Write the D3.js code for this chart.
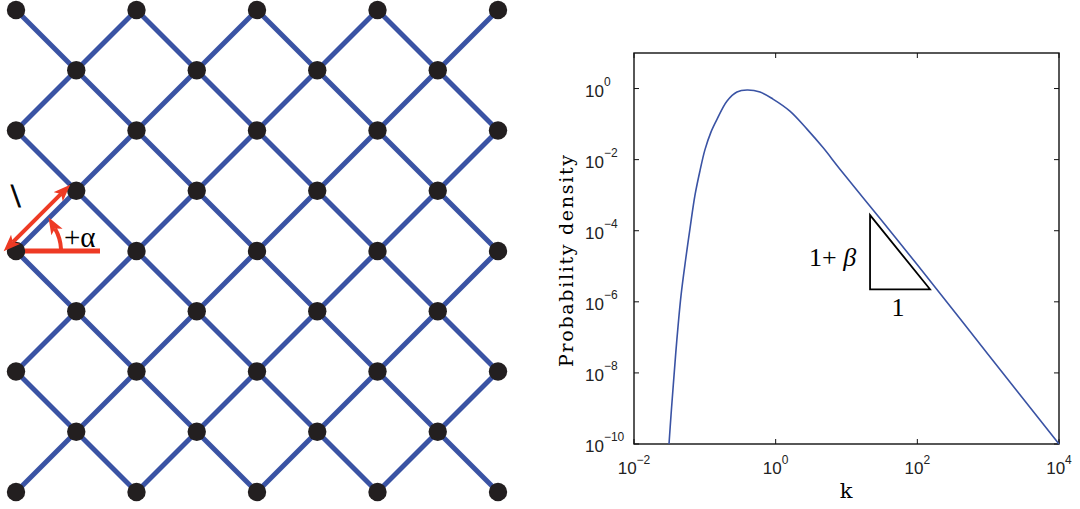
<!DOCTYPE html>
<html>
<head>
<meta charset="utf-8">
<script src="https://cdn.jsdelivr.net/npm/d3@7"></script>
<style>
  body { margin: 0; background: #fff; }
  svg { display: block; }
</style>
</head>
<body>
<div id="chart"></div>
<script>
// lattice size (columns and rows of the square grid, nodes where col+row is even)
const latticeCols = d3.range(0, 9);
const latticeRows = d3.range(0, 9);

// density curve
const kValues = [0.0312, 0.0333, 0.0359, 0.0401, 0.0461, 0.0537, 0.0618, 0.0726, 0.0855, 0.100,
  0.122, 0.149, 0.206, 0.284, 0.394, 0.601, 0.916, 1.59, 2.77, 4.66, 8.09, 31.6, 100, 1000, 10000];
const densityValues = [1e-10, 6.4e-10, 4.7e-9, 7.7e-8, 1.5e-6, 1.6e-5, 1.17e-4, 1.0e-3, 4.9e-3, 0.0185,
  0.0596, 0.138, 0.445, 0.796, 0.908, 0.796, 0.506, 0.232, 0.0723, 0.0218, 0.0054, 1.9e-4, 1.1e-5, 3.3e-8, 1e-10];

// slope triangle corners (k, density)
const triK = [21.5, 21.5, 151];
const triP = [2.74e-4, 2.25e-6, 2.25e-6];

const xTicks = [1e-2, 1e0, 1e2, 1e4];
const xTickExp = ["\u22122", "0", "2", "4"];
const yTicks = [1e0, 1e-2, 1e-4, 1e-6, 1e-8, 1e-10];
const yTickExp = ["0", "\u22122", "\u22124", "\u22126", "\u22128", "\u221210"];

const width = 1080, height = 509;
const blue = "#3a53a4";
const red = "#ee3a24";
const serif = "'DejaVu Serif', serif";
const sans = "'Liberation Sans', Arial, sans-serif";

const svg = d3.select("#chart").append("svg")
  .attr("width", width)
  .attr("height", height);

const defs = svg.append("defs");
defs.append("marker")
  .attr("id", "head")
  .attr("markerUnits", "userSpaceOnUse")
  .attr("viewBox", "0 -7 18 14")
  .attr("markerWidth", 18).attr("markerHeight", 14)
  .attr("refX", 4).attr("refY", 0)
  .attr("orient", "auto-start-reverse")
  .append("path")
  .attr("d", "M0,-6.5L17,0L0,6.5L4,0Z")
  .attr("fill", red);

// ---------- left panel: lattice ----------
const lx = d3.scaleLinear().domain([0, 8]).range([16, 498]);
const ly = d3.scaleLinear().domain([0, 8]).range([10, 492]);

const nodes = [];
latticeRows.forEach(r => latticeCols.forEach(c => {
  if ((r + c) % 2 === 0) nodes.push({ c, r });
}));
const edges = [];
nodes.forEach(n => {
  [[1, 1], [1, -1]].forEach(([dc, dr]) => {
    const c2 = n.c + dc, r2 = n.r + dr;
    if (c2 <= 8 && r2 >= 0 && r2 <= 8) edges.push({ a: n, b: { c: c2, r: r2 } });
  });
});

const lattice = svg.append("g");
lattice.selectAll(".edge")
  .data(edges)
  .enter().append("line")
  .attr("class", "edge")
  .attr("x1", d => lx(d.a.c)).attr("y1", d => ly(d.a.r))
  .attr("x2", d => lx(d.b.c)).attr("y2", d => ly(d.b.r))
  .attr("stroke", blue)
  .attr("stroke-width", 5);

// angle reference line (under the nodes)
const ax = lx(0), ay = ly(4);
lattice.append("line")
  .attr("x1", ax).attr("y1", ay)
  .attr("x2", ax + 84).attr("y2", ay)
  .attr("stroke", red).attr("stroke-width", 5);

lattice.selectAll(".node")
  .data(nodes)
  .enter().append("circle")
  .attr("class", "node")
  .attr("cx", d => lx(d.c)).attr("cy", d => ly(d.r))
  .attr("r", 9.2)
  .attr("fill", "#231f20");

// length arrow, parallel to the bond from (0,4) to (1,3)
const bx = lx(1), by = ly(3);
const len = Math.hypot(bx - ax, by - ay);
const ux = (bx - ax) / len, uy = (by - ay) / len;
const off = 8.5;
const px = -uy * off, py = ux * off; // perpendicular, up-left
lattice.append("line")
  .attr("x1", ax - px + 4 * ux).attr("y1", ay - py + 4 * uy)
  .attr("x2", bx - px - 13 * ux).attr("y2", by - py - 13 * uy)
  .attr("stroke", red).attr("stroke-width", 4)
  .attr("marker-start", "url(#head)")
  .attr("marker-end", "url(#head)");

// angle arc
const rArc = 45, th = 30 * Math.PI / 180;
lattice.append("path")
  .attr("d", `M${ax + rArc},${ay - 2}A${rArc},${rArc} 0 0 0 ${ax + rArc * Math.cos(th)},${ay - rArc * Math.sin(th)}`)
  .attr("fill", "none")
  .attr("stroke", red).attr("stroke-width", 4)
  .attr("marker-end", "url(#head)");

lattice.append("text")
  .attr("x", 11).attr("y", 207)
  .style("font-family", "'Liberation Serif', serif")
  .style("font-size", "34px")
  .attr("stroke", "#000").attr("stroke-width", 0.9)
  .text("\\");

lattice.append("text")
  .attr("x", 64).attr("y", 247)
  .style("font-family", "'Liberation Serif', serif")
  .style("font-size", "29px")
  .text("+\u03b1");

// ---------- right panel: density plot ----------
const x = d3.scaleLog().domain([1e-2, 1e4]).range([634, 1059]);
const y = d3.scaleLog().domain([1e-10, 10]).range([444, 53]);

const plot = svg.append("g");

// frame
plot.append("rect")
  .attr("x", 634).attr("y", 53)
  .attr("width", 1059 - 634).attr("height", 444 - 53)
  .attr("fill", "none").attr("stroke", "#111").attr("stroke-width", 1.4);

// ticks on all four sides, pointing inwards
plot.selectAll(".xt")
  .data(xTicks)
  .enter().append("path")
  .attr("d", d => `M${x(d)},444v-5M${x(d)},53v5`)
  .attr("stroke", "#111");
plot.selectAll(".yt")
  .data(yTicks)
  .enter().append("path")
  .attr("d", d => `M634,${y(d)}h5M1059,${y(d)}h-5`)
  .attr("stroke", "#111");

// tick labels
const xl = plot.selectAll(".xl")
  .data(xTicks)
  .enter().append("text")
  .attr("x", d => x(d)).attr("y", 474)
  .attr("text-anchor", "middle")
  .style("font-family", sans)
  .style("font-size", "17px")
  .attr("fill", "#222");
xl.append("tspan").text("10");
xl.append("tspan").attr("dy", -10).style("font-size", "12px").text((d, i) => xTickExp[i]);

const yl = plot.selectAll(".yl")
  .data(yTicks)
  .enter().append("text")
  .attr("x", 585).attr("y", d => y(d) + 8)
  .style("font-family", sans)
  .style("font-size", "17px")
  .attr("fill", "#222");
yl.append("tspan").text("10");
yl.append("tspan").attr("dy", -11).style("font-size", "12px").text((d, i) => yTickExp[i]);

// axis labels
plot.append("text")
  .attr("x", 846).attr("y", 498)
  .attr("text-anchor", "middle")
  .style("font-family", serif)
  .style("font-size", "21px")
  .text("k");

plot.append("text")
  .attr("transform", "translate(573,261) rotate(-90)")
  .attr("text-anchor", "middle")
  .attr("textLength", 212)
  .style("font-family", serif)
  .style("font-size", "19px")
  .text("Probability density");

// curve
const curve = kValues.map((k, i) => [k, densityValues[i]]);
plot.append("path")
  .datum(curve)
  .attr("fill", "none")
  .attr("stroke", blue)
  .attr("stroke-width", 1.6)
  .attr("d", d3.line()
    .x(d => x(d[0]))
    .y(d => y(d[1]))
    .curve(d3.curveCatmullRom.alpha(0.5)));

// slope triangle
const tri = triK.map((k, i) => [x(k), y(triP[i])]);
plot.append("path")
  .attr("d", "M" + tri.join("L") + "Z")
  .attr("fill", "none")
  .attr("stroke", "#000")
  .attr("stroke-width", 1.8);

const tl = plot.append("text")
  .attr("x", 809).attr("y", 266)
  .style("font-family", "'Liberation Serif', serif")
  .style("font-size", "26px");
tl.append("tspan").text("1+ ");
tl.append("tspan").style("font-style", "italic").text("\u03b2");

plot.append("text")
  .attr("x", 898).attr("y", 316)
  .attr("text-anchor", "middle")
  .style("font-family", "'Liberation Serif', serif")
  .style("font-size", "26px")
  .text("1");
</script>
</body>
</html>
